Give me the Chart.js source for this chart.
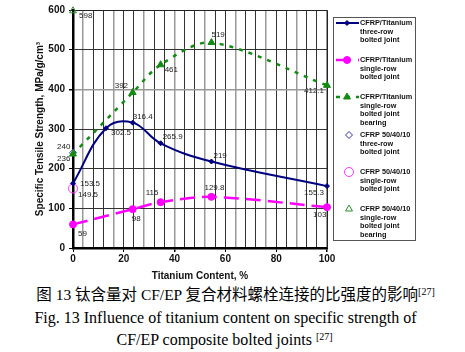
<!DOCTYPE html>
<html>
<head>
<meta charset="utf-8">
<script src="https://cdn.jsdelivr.net/npm/chart.js@4/dist/chart.umd.min.js"></script>
<style>
  body { margin: 0; background: #fff; width: 465px; height: 352px; overflow: hidden; position: relative; }
  #grafico { position: absolute; left: 0; top: 0; }
  .legenda { position: absolute; left: 0; width: 465px; text-align: center; white-space: nowrap; color: #000;
             font-family: "Liberation Serif", "Times New Roman", "Noto Sans CJK SC", serif; line-height: 18px; }
  .legenda sup { font-size: 10px; vertical-align: 5px; line-height: 0; }
</style>
</head>
<body>
<canvas id="grafico" width="465" height="282"></canvas>
<div class="legenda" style="top:286px;left:3px;font-size:15.5px">图 13 钛含量对 CF/EP 复合材料螺栓连接的比强度的影响<sup>[27]</sup></div>
<div class="legenda" style="top:309px;left:-7px;font-size:16px">Fig. 13 Influence of titanium content on specific strength of</div>
<div class="legenda" style="top:331px;left:-8px;font-size:16px">CF/EP composite bolted joints <sup>[27]</sup></div>
<script>
// ---- dados (teor de titânio em %, resistência específica)
const xTresFileiras = [0, 13, 23.5, 34.5, 54.5, 100];
const yTresFileiras = [163, 302, 316, 264, 218, 156];
const rotTresFileiras = ['153.5', '302.5', '316.4', '265.9', '219', '155.3'];

const xUmaFileira = [0, 23.5, 34.5, 54.5, 100];
const yUmaFileira = [59.5, 98, 115.5, 129, 103];
const rotUmaFileira = ['59', '98', '115', '129.8', '103'];

const xMancal = [0, 23.5, 34.5, 54.5, 100];
const yMancal = [237, 392, 462, 518, 410];
const rotMancal = ['236', '392', '461', '519', '412.1'];

// CFRP 50/40/10 -> só um ponto cada, em x = 0
const xCfrp = [0];
const yCfrpTres = [240];
const yCfrpUma = [150];
const yCfrpMancal = [598];
const rotCfrpTres = ['240'];
const rotCfrpUma = ['149.5'];
const rotCfrpMancal = ['598'];

const ticksY = [0, 100, 200, 300, 400, 500, 600];
const ticksX = [0, 20, 40, 60, 80, 100];

const pontos = (xs, ys) => xs.map((x, i) => ({ x: x, y: ys[i] }));

// deslocamento dos rótulos em px (dx, dy) a partir do ponto
const posRotulos = [
    [[7, 0], [5, 5], [0, -6], [2, -6], [2, -6], [-23, 7]],
    [[5, 9], [-1, 10], [-15, -9], [-7, -9], [-14, 8]],
    [[-16, 5], [-18, -7], [4, 5], [0, -8], [-23, 5]],
    [[-16, -6]],
    [[5, 6]],
    [[6, 5]]
];
const rotulos = [rotTresFileiras, rotUmaFileira, rotMancal, rotCfrpTres, rotCfrpUma, rotCfrpMancal];

const pluginRotulos = {
    id: 'rotulos',
    afterDatasetsDraw(chart) {
        const ctx = chart.ctx;
        ctx.save();
        ctx.font = '8px "Liberation Sans", Arial, sans-serif';
        ctx.fillStyle = '#222';
        ctx.textAlign = 'left';
        ctx.textBaseline = 'middle';
        rotulos.forEach((lista, d) => {
            const meta = chart.getDatasetMeta(d);
            lista.forEach((txt, i) => {
                const p = meta.data[i];
                const [dx, dy] = posRotulos[d][i];
                ctx.fillText(txt, p.x + dx, p.y + dy);
            });
        });
        ctx.restore();
    }
};

// moldura de cima e da direita
const pluginMoldura = {
    id: 'moldura',
    beforeDatasetsDraw(chart) {
        const { ctx, chartArea: a } = chart;
        ctx.save();
        ctx.strokeStyle = '#222';
        ctx.lineWidth = 1;
        ctx.beginPath();
        ctx.moveTo(a.left, a.top + 0.5);
        ctx.lineTo(a.right + 0.5, a.top + 0.5);
        ctx.lineTo(a.right + 0.5, a.bottom);
        ctx.stroke();
        ctx.restore();
    }
};

// legenda desenhada à mão (caixa com textos de várias linhas)
const itensLegenda = [
    { ds: 0, linha: true, y: 23, texto: ['CFRP/Titanium', 'three-row', 'bolted joint'] },
    { ds: 1, linha: true, y: 60, texto: ['CFRP/Titanium', 'single-row', 'bolted joint'] },
    { ds: 2, linha: true, y: 97, texto: ['CFRP/Titanium', 'single-row', 'bolted joint', 'bearing'] },
    { ds: 3, linha: false, y: 135, texto: ['CFRP 50/40/10', 'three-row', 'bolted joint'] },
    { ds: 4, linha: false, y: 172, texto: ['CFRP 50/40/10', 'single-row', 'bolted joint'] },
    { ds: 5, linha: false, y: 209, texto: ['CFRP 50/40/10', 'single-row', 'bolted joint', 'bearing'] }
];

const pluginLegenda = {
    id: 'legendaCaixa',
    afterDraw(chart) {
        const ctx = chart.ctx;
        ctx.save();
        ctx.strokeStyle = '#555';
        ctx.lineWidth = 1;
        ctx.strokeRect(333.5, 17.5, 82, 223);
        itensLegenda.forEach(item => {
            const ds = chart.data.datasets[item.ds];
            if (item.linha) {
                ctx.save();
                ctx.strokeStyle = ds.borderColor;
                ctx.lineWidth = ds.borderWidth;
                ctx.setLineDash(ds.borderDash || []);
                ctx.beginPath();
                ctx.moveTo(336, item.y);
                ctx.lineTo(359, item.y);
                ctx.stroke();
                ctx.restore();
            }
            ctx.save();
            ctx.fillStyle = ds.pointBackgroundColor;
            ctx.strokeStyle = ds.pointBorderColor;
            Chart.helpers.drawPoint(ctx, {
                pointStyle: ds.pointStyle,
                radius: ds.pointRadius,
                borderWidth: ds.pointBorderWidth,
                rotation: 0
            }, item.linha ? 347 : 349, item.y);
            ctx.restore();
            ctx.fillStyle = '#111';
            ctx.font = 'bold 7.3px "Liberation Sans", Arial, sans-serif';
            ctx.textAlign = 'left';
            ctx.textBaseline = 'middle';
            item.texto.forEach((t, k) => ctx.fillText(t, 360, item.y + k * 8.7));
        });
        ctx.restore();
    }
};

const fonteEixo = { family: '"Liberation Sans", Arial, sans-serif', size: 10, weight: 'bold' };

const ctx = document.getElementById('grafico').getContext('2d');
let grafico = new Chart(ctx, {
    type: 'scatter',
    data: {
        datasets: [{
            label: 'CFRP/Titanium three-row bolted joint',
            data: pontos(xTresFileiras, yTresFileiras),
            showLine: true,
            tension: 0.4,
            borderColor: '#000080',
            borderWidth: 2,
            pointStyle: 'rectRot',
            pointRadius: 2.5,
            pointBackgroundColor: '#000080',
            pointBorderColor: '#000080',
            pointBorderWidth: 1
        }, {
            label: 'CFRP/Titanium single-row bolted joint',
            data: pontos(xUmaFileira, yUmaFileira),
            showLine: true,
            tension: 0.3,
            borderColor: '#ff00ff',
            borderWidth: 2.5,
            borderDash: [15, 7],
            pointStyle: 'circle',
            pointRadius: 3.5,
            pointBackgroundColor: '#ff00ff',
            pointBorderColor: '#ff00ff',
            pointBorderWidth: 1
        }, {
            label: 'CFRP/Titanium single-row bolted joint bearing',
            data: pontos(xMancal, yMancal),
            showLine: true,
            tension: 0.3,
            borderColor: '#138a13',
            borderWidth: 2.5,
            borderDash: [4, 6],
            pointStyle: 'triangle',
            pointRadius: 4,
            pointBackgroundColor: '#138a13',
            pointBorderColor: '#138a13',
            pointBorderWidth: 1
        }, {
            label: 'CFRP 50/40/10 three-row bolted joint',
            data: pontos(xCfrp, yCfrpTres),
            pointStyle: 'rectRot',
            pointRadius: 3.5,
            pointBackgroundColor: '#ffffff',
            pointBorderColor: '#3333aa',
            pointBorderWidth: 1
        }, {
            label: 'CFRP 50/40/10 single-row bolted joint',
            data: pontos(xCfrp, yCfrpUma),
            pointStyle: 'circle',
            pointRadius: 4.5,
            pointBackgroundColor: 'rgba(255,255,255,0)',
            pointBorderColor: '#ff33ff',
            pointBorderWidth: 1
        }, {
            label: 'CFRP 50/40/10 single-row bolted joint bearing',
            data: pontos(xCfrp, yCfrpMancal),
            pointStyle: 'triangle',
            pointRadius: 4,
            pointBackgroundColor: 'rgba(255,255,255,0)',
            pointBorderColor: '#2e8b2e',
            pointBorderWidth: 1
        }]
    },
    options: {
        responsive: false,
        animation: false,
        clip: false,
        layout: { padding: { left: 0, right: 138, top: 9, bottom: 0 } },
        plugins: {
            legend: { display: false },
            tooltip: { enabled: false }
        },
        scales: {
            x: {
                type: 'linear',
                min: 0,
                max: 100,
                afterFit: s => { s.height = 34; },
                afterBuildTicks: s => {
                    // linhas de grade a cada 4 %, rótulos só nos valores de ticksX
                    const t = [];
                    for (let v = 0; v <= 100; v += 4) t.push({ value: v });
                    s.ticks = t;
                },
                ticks: {
                    autoSkip: false,
                    maxRotation: 0,
                    padding: 1,
                    color: '#111',
                    font: fonteEixo,
                    callback: v => ticksX.includes(v) ? v : ''
                },
                grid: {
                    color: c => (c.index % 3 === 1 ? '#999' : '#333'),
                    lineWidth: c => (c.index % 3 === 1 ? 1.5 : 1),
                    tickLength: 4,
                    tickColor: c => (c.tick && ticksX.includes(c.tick.value) ? '#000' : 'rgba(0,0,0,0)')
                },
                border: { color: '#000', width: 2.5 },
                title: {
                    display: true,
                    text: 'Titanium Content, %',
                    color: '#111',
                    font: fonteEixo,
                    padding: { top: 0, bottom: 0 }
                }
            },
            y: {
                min: 0,
                max: 600,
                afterFit: s => { s.width = 73; },
                afterBuildTicks: s => { s.ticks = ticksY.map(v => ({ value: v })); },
                ticks: {
                    padding: 4,
                    color: '#111',
                    font: fonteEixo
                },
                grid: {
                    color: c => (c.tick && c.tick.value === 400 ? '#999' : '#333'),
                    lineWidth: c => (c.tick && c.tick.value === 400 ? 1.5 : 1),
                    tickLength: 4,
                    tickColor: '#000'
                },
                border: { color: '#000', width: 2.5 },
                title: {
                    display: true,
                    text: 'Specific Tensile Strength, MPa/g/cm³',
                    color: '#111',
                    font: fonteEixo,
                    padding: { top: 34, bottom: 0 }
                }
            }
        }
    },
    plugins: [pluginMoldura, pluginRotulos, pluginLegenda]
});
</script>
</body>
</html>
